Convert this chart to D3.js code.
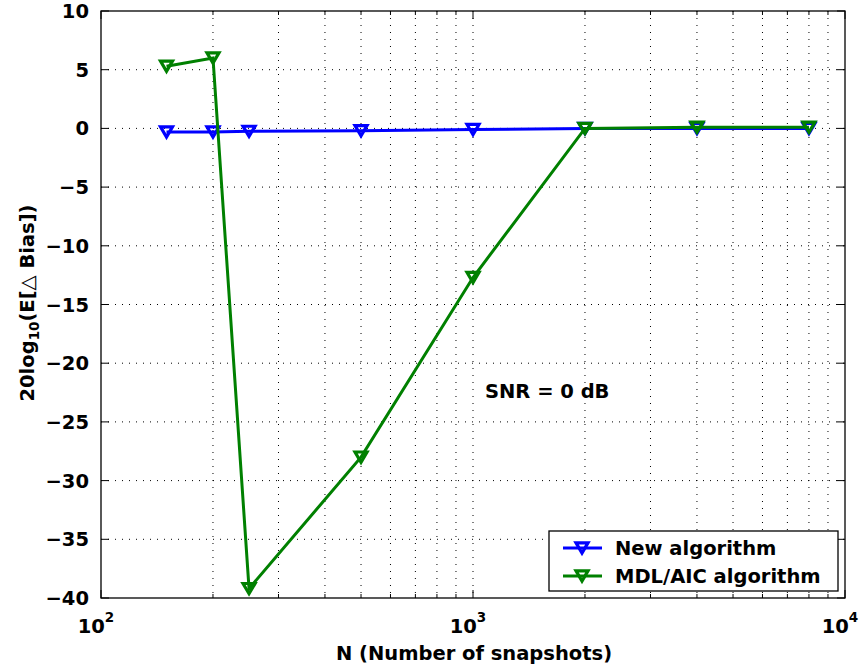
<!DOCTYPE html>
<html><head><meta charset="utf-8">
<script src="https://cdn.jsdelivr.net/npm/d3@7"></script>
<style>body{margin:0;background:#fff}svg{display:block}text{font-family:"DejaVu Sans",sans-serif;font-weight:700}</style>
</head><body><svg id="c" width="867" height="671"></svg>
<script>
const snapshots = [150, 200, 250, 500, 1000, 2000, 4000, 8000];
const newAlg = [-0.3, -0.3, -0.25, -0.2, -0.1, 0.0, 0.0, 0.0];
const mdlAic = [5.3, 6.0, -39.2, -28.0, -12.7, 0.0, 0.1, 0.1];
const yTicks = [-40, -35, -30, -25, -20, -15, -10, -5, 0, 5, 10];
const xTicks = [100, 1000, 10000];
const seriesNames = ["New algorithm", "MDL/AIC algorithm"];
const colors = ["#0000ff", "#008000"];

const svg = d3.select("#c");
const L = 101, R = 845, T = 11, B = 598;
const x = d3.scaleLog().domain([100, 10000]).range([L, R]);
const y = d3.scaleLinear().domain([-40, 10]).range([B, T]);

const minor = [];
for (let d = 100; d < 10000; d *= 10) for (let k = 1; k < 10; k++) minor.push(d * k);
minor.push(10000);

// grid
const g = svg.append("g");
g.selectAll(".vx").data(minor.filter(v => v > 100 && v < 10000)).join("line")
  .attr("x1", d => x(d)).attr("x2", d => x(d)).attr("y1", T).attr("y2", B)
  .attr("stroke", "#000").attr("stroke-width", 1).attr("stroke-dasharray", "1,6");
g.selectAll(".hy").data(yTicks.filter(v => v > -40 && v < 10)).join("line")
  .attr("x1", L).attr("x2", R).attr("y1", d => y(d)).attr("y2", d => y(d))
  .attr("stroke", "#000").attr("stroke-width", 1).attr("stroke-dasharray", "1,6");

// ticks
const tk = svg.append("g").attr("stroke", "#000").attr("stroke-width", 1);
minor.forEach(v => {
  const len = (Math.abs(Math.log10(v) - Math.round(Math.log10(v))) < 1e-9) ? 8 : 4;
  tk.append("line").attr("x1", x(v)).attr("x2", x(v)).attr("y1", B).attr("y2", B - len);
  tk.append("line").attr("x1", x(v)).attr("x2", x(v)).attr("y1", T).attr("y2", T + len);
});
yTicks.forEach(v => {
  tk.append("line").attr("x1", L).attr("x2", L + 8).attr("y1", y(v)).attr("y2", y(v));
  tk.append("line").attr("x1", R).attr("x2", R - 8).attr("y1", y(v)).attr("y2", y(v));
});
svg.append("rect").attr("x", L).attr("y", T).attr("width", R - L).attr("height", B - T)
  .attr("fill", "none").attr("stroke", "#000").attr("stroke-width", 1.3);

// tick labels
svg.selectAll(".yl").data(yTicks).join("text")
  .attr("x", L - 12).attr("y", d => y(d) + 7).attr("text-anchor", "end")
  .attr("font-size", 19.5).text(d => d < 0 ? "\u2212" + Math.abs(d) : d);
xTicks.forEach(v => {
  const t = svg.append("text").attr("x", x(v) - 5).attr("y", B + 35).attr("text-anchor", "middle").attr("font-size", 19.5);
  t.append("tspan").text("10");
  t.append("tspan").attr("dy", -11).attr("font-size", 13.5).text(Math.log10(v));
});

// axis labels
svg.append("text").attr("x", 474).attr("y", 660).attr("text-anchor", "middle").attr("font-size", 19.5)
  .text("N (Number of snapshots)");
const yl = svg.append("text").attr("transform", "translate(34,303) rotate(-90)").attr("text-anchor", "middle").attr("font-size", 19.5);
yl.append("tspan").text("20log");
yl.append("tspan").attr("dy", 5).attr("font-size", 13.5).text("10");
yl.append("tspan").attr("dy", -5).text("(E[\u25B3 Bias])");

svg.append("text").attr("x", 485).attr("y", 398).attr("font-size", 19.5).text("SNR = 0 dB");

// series
const line = d3.line().x(d => x(d[0])).y(d => y(d[1]));
const tri = (cx, cy, s) => `M${cx - s},${cy - s * 0.85}L${cx + s},${cy - s * 0.85}L${cx},${cy + s * 0.85}Z`;
[newAlg, mdlAic].forEach((vals, i) => {
  const pts = snapshots.map((n, j) => [n, vals[j]]);
  svg.append("path").attr("d", line(pts)).attr("fill", "none").attr("stroke", colors[i]).attr("stroke-width", 3);
  svg.append("g").selectAll("path").data(pts).join("path")
    .attr("d", d => tri(x(d[0]), y(d[1]), 6)).attr("fill", "none").attr("stroke", colors[i]).attr("stroke-width", 3.2);
});

// legend
svg.append("rect").attr("x", 549).attr("y", 531).attr("width", 289).attr("height", 60)
  .attr("fill", "#fff").attr("stroke", "#000").attr("stroke-width", 1.3);
seriesNames.forEach((nm, i) => {
  const yy = 548 + i * 28;
  svg.append("line").attr("x1", 563).attr("x2", 602).attr("y1", yy).attr("y2", yy).attr("stroke", colors[i]).attr("stroke-width", 3);
  svg.append("path").attr("d", tri(582, yy, 6)).attr("fill", "none").attr("stroke", colors[i]).attr("stroke-width", 3.2);
  svg.append("text").attr("x", 615).attr("y", yy + 7).attr("font-size", 19.5).text(nm);
});
</script></body></html>
